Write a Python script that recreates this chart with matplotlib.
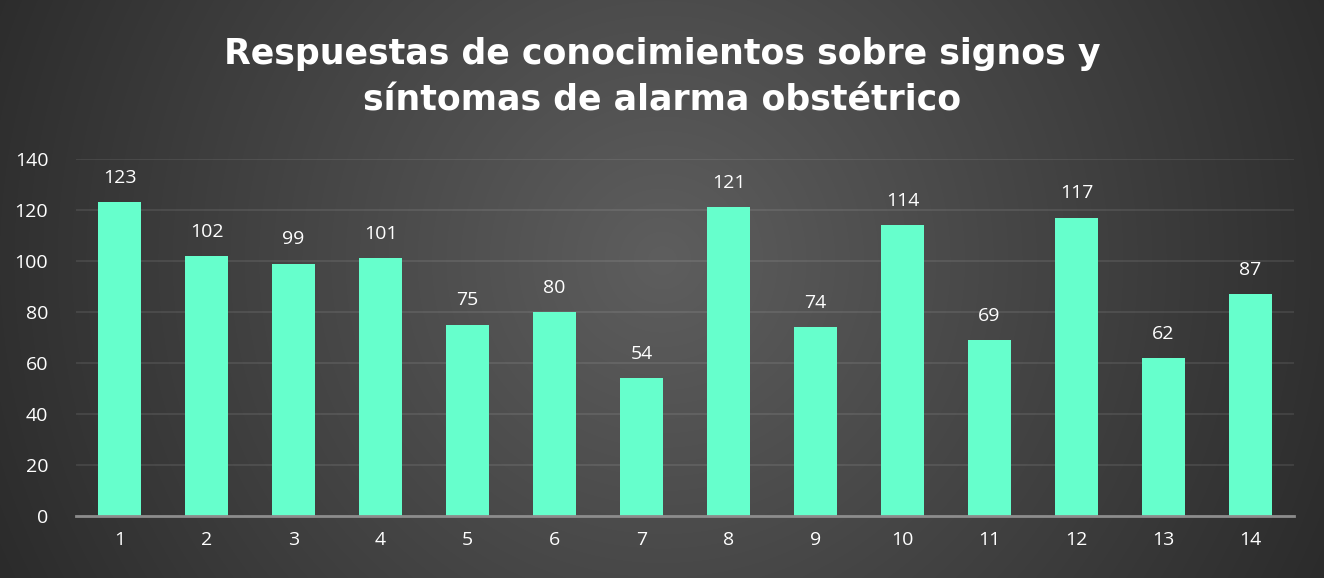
import numpy as np
import matplotlib
matplotlib.use("Agg")
import matplotlib.pyplot as plt

plt.rcParams["font.family"] = ["Open Sans", "DejaVu Sans"]

categories = [str(i) for i in range(1, 15)]
values = [123, 102, 99, 101, 75, 80, 54, 121, 74, 114, 69, 117, 62, 87]
title = "Respuestas de conocimientos sobre signos y\nsíntomas de alarma obstétrico"

W, H = 1324, 578
fig = plt.figure(figsize=(W / 100, H / 100), dpi=100)

# radial gradient background
bg = fig.add_axes([0, 0, 1, 1], zorder=0)
yy, xx = np.mgrid[0:H, 0:W]
cx, cy = W * 0.5, H * 0.45
r = np.sqrt(((xx - cx) / (W * 0.62)) ** 2 + ((yy - cy) / (W * 0.62)) ** 2)
r = np.clip(r, 0, 1)
c0, c1 = 0x5e / 255, 0x25 / 255
val = c0 + (c1 - c0) * r
img = np.dstack([val, val, val])
bg.imshow(img, aspect="auto", extent=[0, 1, 0, 1], interpolation="bilinear")
bg.set_axis_off()

ax = fig.add_axes([76 / W, 1 - 516 / H, (1294 - 76) / W, (516 - 159) / H], zorder=1)
ax.patch.set_alpha(0)
x = np.arange(len(values))
bars = ax.bar(x, values, width=0.5, color="#66FFCC", zorder=3)
ax.set_xlim(-0.5, len(values) - 0.5)
ax.set_ylim(0, 140)
ax.set_yticks(range(0, 141, 20))
ax.set_xticks(x)
ax.set_xticklabels(categories)
ax.grid(axis="y", color="white", alpha=0.1, linewidth=1.2, zorder=0)
for s in ["top", "right", "left"]:
    ax.spines[s].set_visible(False)
ax.spines["bottom"].set_color("#8c8c8c")
ax.spines["bottom"].set_linewidth(2)
ax.spines["bottom"].set_zorder(4)
ax.tick_params(axis="both", length=0, colors="white", labelsize=14)
ax.tick_params(axis="x", pad=11)
ax.tick_params(axis="y", pad=20)
for xi, v in zip(x, values):
    ax.annotate(str(v), (xi, v), xytext=(0, 11), textcoords="offset points",
                ha="center", va="bottom", color="white", fontsize=14)

fig.text(0.5, 1 - 77 / H, title, ha="center", va="center", color="white",
         fontsize=25, fontweight="bold", family="DejaVu Sans", linespacing=1.45)

fig.savefig("out.png", dpi=100)
